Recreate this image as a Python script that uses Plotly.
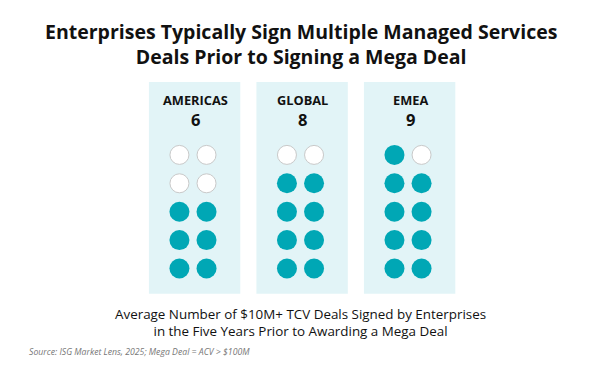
import plotly.graph_objects as go

regions = ["AMERICAS", "GLOBAL", "EMEA"]
avg_deals = [6, 8, 9]
slots = 10  # 5 rows x 2 columns

title = "Enterprises Typically Sign Multiple Managed Services<br>Deals Prior to Signing a Mega Deal"
subtitle = "Average Number of $10M+ TCV Deals Signed by Enterprises<br>in the Five Years Prior to Awarding a Mega Deal"
source = "Source: ISG Market Lens, 2025; Mega Deal = ACV > $100M"

TEAL = "#00A7B5"
PANEL = "#E2F4F7"
EMPTY_LINE = "#C9C9C9"
FONT = "Open Sans"

fig = go.Figure()

col_off = 0.126
for i, (reg, val) in enumerate(zip(regions, avg_deals)):
    fig.add_shape(type="rect", xref="x", yref="y", x0=i - 0.41, x1=i + 0.44,
                  y0=-0.89, y1=6.57, fillcolor=PANEL, line_width=0, layer="below")
    xs_f, ys_f, xs_e, ys_e = [], [], [], []
    for k in range(slots):
        r, c = divmod(k, 2)
        x = i + (-col_off if c == 0 else col_off)
        if k < val:
            xs_f.append(x); ys_f.append(r)
        else:
            xs_e.append(x); ys_e.append(r)
    fig.add_trace(go.Scatter(x=xs_f, y=ys_f, mode="markers", hoverinfo="skip",
                             marker=dict(size=20, color=TEAL, line=dict(width=0))))
    fig.add_trace(go.Scatter(x=xs_e, y=ys_e, mode="markers", hoverinfo="skip",
                             marker=dict(size=19, color="white", line=dict(width=1, color=EMPTY_LINE))))
    fig.add_annotation(x=i + 0.02, y=5.95, xref="x", yref="y", text=f"<b>{reg}</b>", showarrow=False,
                       font=dict(family=FONT, size=12.8, color="#111"), yanchor="middle")
    fig.add_annotation(x=i + 0.02, y=5.25, xref="x", yref="y", text=f"<b>{val}</b>", showarrow=False,
                       font=dict(family=FONT, size=16.5, color="#111"), yanchor="middle")

fig.add_annotation(x=0.5, y=1 - 44.5 / 376, xref="paper", yref="paper", text=f"<b>{title}</b>",
                   showarrow=False, font=dict(family=FONT, size=19.5, color="#111"),
                   yanchor="middle", xanchor="center")
fig.add_annotation(x=0.5, y=1 - 322 / 376, xref="paper", yref="paper", text=subtitle,
                   showarrow=False, font=dict(family=FONT, size=13.4, color="#111"),
                   yanchor="middle", xanchor="center")
fig.add_annotation(x=27 / 601, y=1 - 352 / 376, xref="paper", yref="paper", text=f"<i>{source}</i>",
                   showarrow=False, font=dict(family=FONT, size=8.7, color="#777"),
                   yanchor="middle", xanchor="left")

fig.update_layout(
    width=601, height=376, margin=dict(l=0, r=0, t=0, b=0),
    paper_bgcolor="white", plot_bgcolor="white", showlegend=False,
    xaxis=dict(range=[-1.795, 3.795], visible=False, fixedrange=True),
    yaxis=dict(range=[-3.785, 9.454], visible=False, fixedrange=True),
)

fig.write_html("out.html", config={"displayModeBar": False},
               post_script="document.body.style.margin='0px';document.body.style.overflow='hidden';")
